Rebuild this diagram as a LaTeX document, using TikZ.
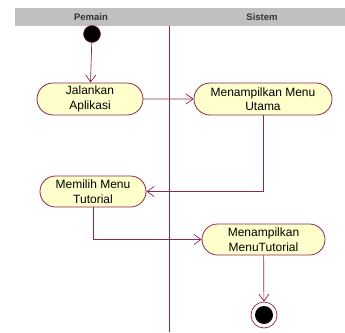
\documentclass[tikz,border=0pt]{standalone}
\usepackage{fontspec}
\setmainfont{Liberation Sans}
\usetikzlibrary{shapes.misc,arrows.meta}

\definecolor{garis}{HTML}{8C2850}
\definecolor{isi}{HTML}{FFFFCC}
\definecolor{kepala}{HTML}{C0C0C0}

\tikzset{
	aksi/.style={rounded rectangle, draw=garis, fill=isi, line width=0.8pt,
		align=center, inner sep=0pt, font=\fontsize{12}{14.5}\selectfont},
	alur/.style={draw=garis, line width=0.7pt, -{Straight Barb[length=7pt,width=10pt]}},
	judul/.style={font=\fontsize{9.5}{10}\selectfont\bfseries, text=black!80}
}

\begin{document}
\begin{tikzpicture}[x=1pt, y=-1pt]

	\useasboundingbox (0, 0) rectangle (345, 332);

	% kepala swimlane
	\fill[kepala] (15, 8) rectangle (345, 26);
	\node[judul] (pemain) at (91, 17) {Pemain};
	\node[judul] (sistem) at (262, 17) {Sistem};

	\draw[garis, line width=0.8pt] (169, 26) -- (169, 332);

	% awal dan akhir
	\node[circle, fill=black, draw=garis, line width=0.6pt, minimum size=17pt, inner sep=0pt] (awal) at (92, 34) {};
	\node[circle, draw=garis, fill=white, line width=0.7pt, minimum size=26pt, inner sep=0pt] (akhir) at (264, 315) {};
	\fill[black] (akhir.center) circle (9);

	% aktivitas
	\node[aksi, minimum width=106pt, minimum height=32pt] (jalankan) at (90, 99) {Jalankan\\Aplikasi};
	\node[aksi, minimum width=138pt, minimum height=32pt] (menuutama) at (263, 99) {Menampilkan Menu\\Utama};
	\node[aksi, minimum width=106pt, minimum height=31pt] (memilih) at (93, 191.5) {Memilih Menu\\Tutorial};
	\node[aksi, minimum width=123pt, minimum height=31pt] (tutorial) at (263.5, 239.5) {Menampilkan\\MenuTutorial};

	% alur
	\draw[alur] (awal) -- (jalankan);
	\draw[alur] (jalankan) -- (menuutama);
	\draw[alur] (menuutama.south) |- (memilih.east);
	\draw[alur] (memilih.south) |- (tutorial.west);
	\draw[alur] (tutorial) -- (akhir);

\end{tikzpicture}
\end{document}
